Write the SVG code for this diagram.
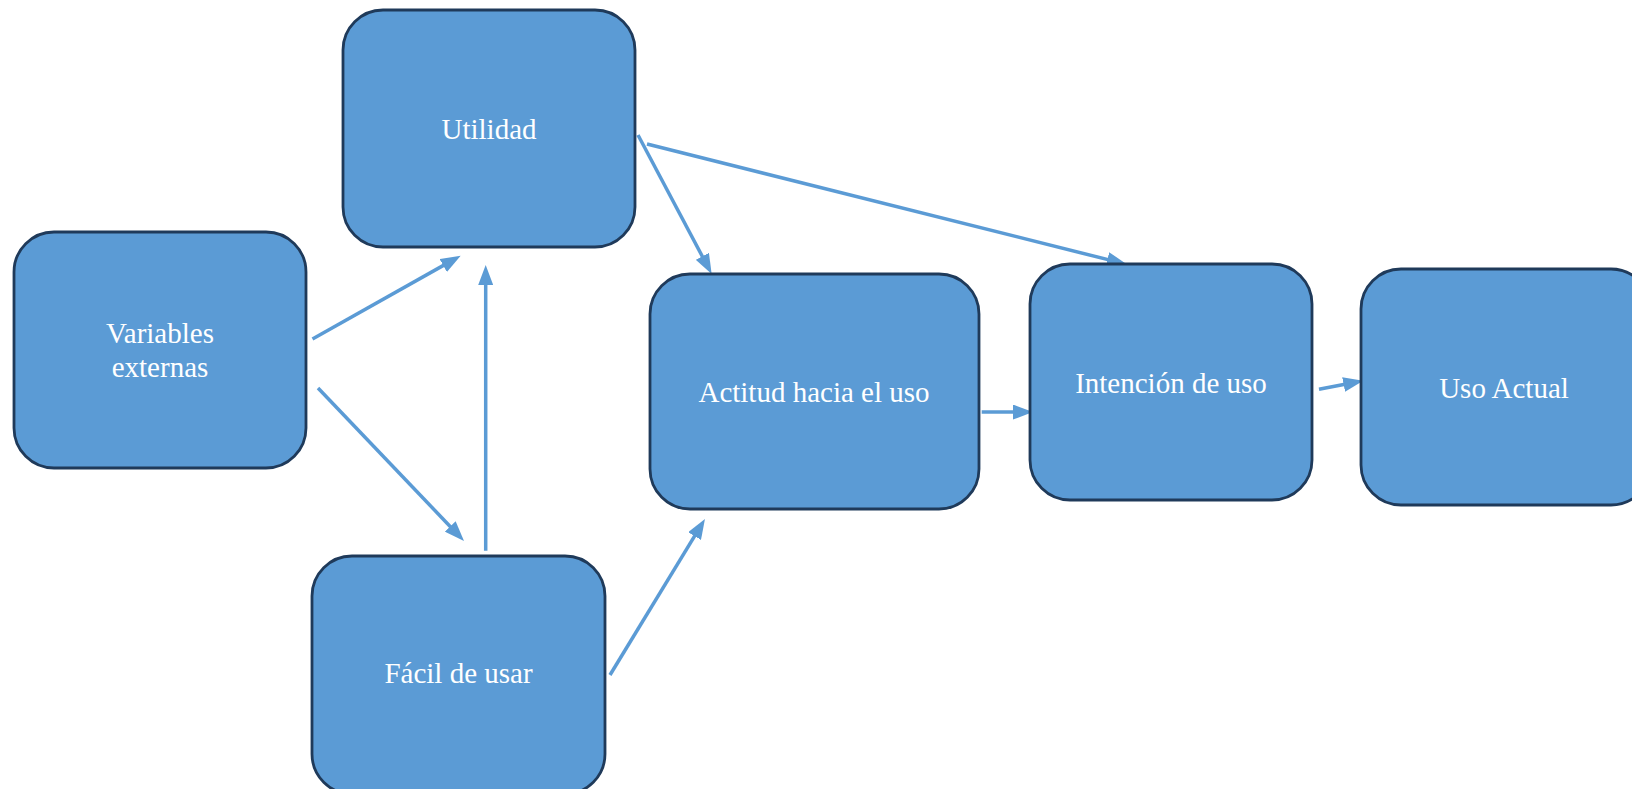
<svg xmlns="http://www.w3.org/2000/svg" width="1632" height="789" viewBox="0 0 1632 789">
  <style>
    .box { fill: #5b9bd5; stroke: #1f3a5a; stroke-width: 2.8; }
    .label { fill: #ffffff; font-family: "Liberation Serif", "Times New Roman", serif; font-size: 29px; text-anchor: middle; }
    .link { stroke: #5b9bd5; stroke-width: 3.5; fill: none; marker-end: url(#arrow); }
  </style>
  <defs>
    <marker id="arrow" markerUnits="userSpaceOnUse" markerWidth="20" markerHeight="15" refX="12" refY="7.5" orient="auto">
      <path d="M0,0 L20,7.5 L0,15 z" fill="#5b9bd5"/>
    </marker>
  </defs>
  <rect width="1632" height="789" fill="#ffffff"/>

  <g id="connectors">
    <line class="link" x1="312.5" y1="339" x2="453.7" y2="259.6"/>
    <line class="link" x1="318" y1="388" x2="458.5" y2="535.2"/>
    <line class="link" x1="485.7" y1="550.7" x2="485.7" y2="273"/>
    <line class="link" x1="638" y1="135" x2="707.9" y2="266.9"/>
    <line class="link" x1="647" y1="144" x2="1119" y2="262.4"/>
    <line class="link" x1="981.7" y1="412" x2="1025" y2="412"/>
    <line class="link" x1="1319" y1="389.3" x2="1355.4" y2="382.2"/>
    <line class="link" x1="610" y1="675" x2="700.8" y2="525.8"/>
  </g>

  <g id="node-variables">
    <rect class="box" x="14" y="232" width="292" height="236" rx="40"/>
    <text class="label" x="160" y="343">Variables</text>
    <text class="label" x="160" y="377">externas</text>
  </g>
  <g id="node-utilidad">
    <rect class="box" x="343" y="10" width="292" height="237" rx="40"/>
    <text class="label" x="489" y="139">Utilidad</text>
  </g>
  <g id="node-facil">
    <rect class="box" x="312" y="556" width="293" height="238" rx="40"/>
    <text class="label" x="458.5" y="683">Fácil de usar</text>
  </g>
  <g id="node-actitud">
    <rect class="box" x="650" y="274" width="329" height="235" rx="40"/>
    <text class="label" x="814" y="402">Actitud hacia el uso</text>
  </g>
  <g id="node-intencion">
    <rect class="box" x="1030" y="264" width="282" height="236" rx="40"/>
    <text class="label" x="1171" y="393">Intención de uso</text>
  </g>
  <g id="node-uso">
    <rect class="box" x="1361" y="269" width="290" height="236" rx="40"/>
    <text class="label" x="1504" y="398">Uso Actual</text>
  </g>
</svg>
